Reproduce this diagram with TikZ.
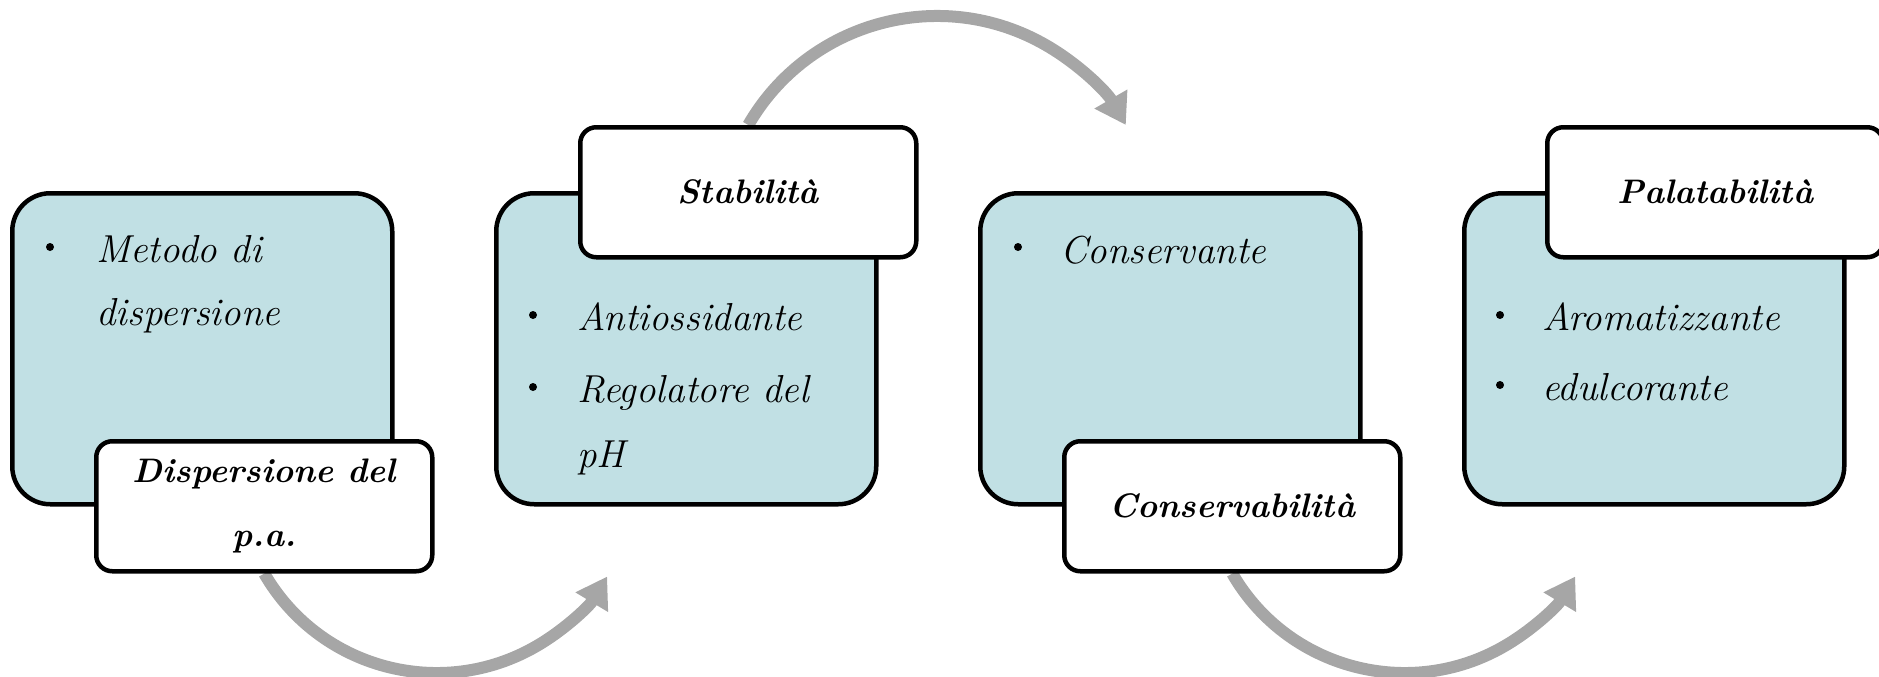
\documentclass[tikz,border=0pt]{standalone}
\usetikzlibrary{arrows.meta,backgrounds}
\definecolor{boxblue}{RGB}{193,224,228}
\definecolor{arrowgray}{RGB}{166,166,166}
\tikzset{
  card/.style={rectangle, rounded corners=38pt, draw, line width=4.5pt, fill=boxblue,
    minimum width=380pt, minimum height=311pt, anchor=north west},
  tag/.style={rectangle, rounded corners=16pt, draw, line width=4.5pt, fill=white,
    minimum width=336pt, minimum height=130pt, anchor=north west, align=center,
    font=\fontsize{34}{64}\selectfont\bfseries\itshape},
  entry/.style={anchor=base west, inner sep=0pt, font=\fontsize{39}{65}\selectfont\itshape},
  dot/.style={circle, fill, inner sep=0pt, minimum size=8pt},
  flow/.style={draw=arrowgray, line width=12pt, -{Triangle[length=30pt,width=36pt]}}
}
\begin{document}
\begin{tikzpicture}[x=1pt,y=-1pt]
    \useasboundingbox (0,0) rectangle (1879,677);
    \def \dx {484}
    % blue boxes
    \foreach \i in {1,...,4}
      \node[card] (box\i) at ({10+\dx*(\i-1)},191) {};
    % titles
    \node[tag] (lab1) at (94,439) {Dispersione del\\p.a.};
    \node[tag] (lab2) at (578,125) {Stabilità};
    \node[tag] (lab3) at (1062,439) {Conservabilità};
    \node[tag] (lab4) at (1545,125) {Palatabilità};
    % bullet lists
    \node[dot] (d1) at (50,247) {};
    \node[entry] (m1) at (96,262) {Metodo di};
    \node[entry] (m2) at (96,325) {dispersione};
    \node[dot] (d2) at (533,315) {};
    \node[dot] (d3) at (533,387) {};
    \node[entry] (s1) at (577,330) {Antiossidante};
    \node[entry] (s2) at (577,402) {Regolatore del};
    \node[entry] (s3) at (577,467) {pH};
    \node[dot] (d4) at (1018,247) {};
    \node[entry] (c1) at (1060,263) {Conservante};
    \node[dot] (d5) at (1500,315) {};
    \node[dot] (d6) at (1500,385) {};
    \node[entry] (p1) at (1542,330) {Aromatizzante};
    \node[entry] (p2) at (1542,400) {edulcorante};
    % curved arrows behind the boxes
    \begin{scope}[on background layer]
      \draw[flow] (lab1.south) arc[start angle=210, end angle=329, radius=199pt];
      \draw[flow] (lab2.north) arc[start angle=150, end angle=30, radius=218pt];
      \draw[flow] (lab3.south) arc[start angle=210, end angle=329, radius=199pt];
    \end{scope}
\end{tikzpicture}
\end{document}
